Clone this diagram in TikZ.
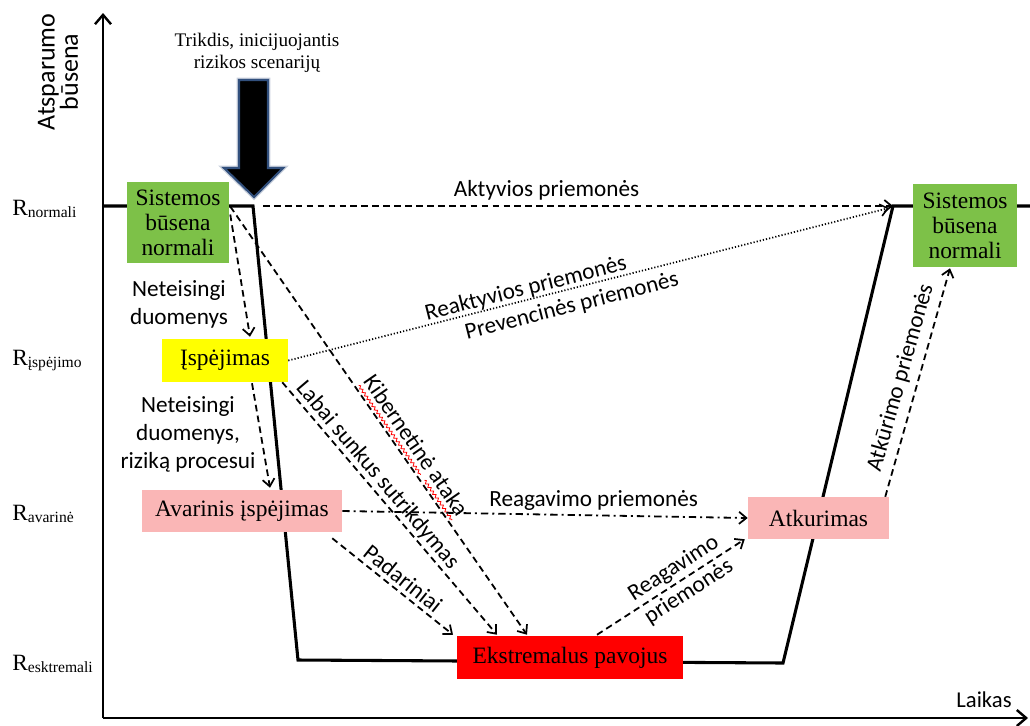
\documentclass[tikz,border=0pt]{standalone}
\usepackage{fontspec}
\setmainfont{Liberation Serif}
\newfontfamily\lab{Carlito}
\usetikzlibrary{arrows.meta,calc,decorations.pathmorphing}

\definecolor{boxgreen}{RGB}{125,193,72}
\definecolor{boxpink}{RGB}{250,182,182}
\definecolor{boxred}{RGB}{255,0,0}
\definecolor{boxyellow}{RGB}{255,255,0}
\definecolor{arrowrim}{RGB}{50,80,125}

\tikzset{
  state/.style={inner sep=0pt, align=center, font=\fontsize{17.6}{18.8}\selectfont},
  curve/.style={line width=2.3pt, line join=miter},
  axis/.style={line width=2.2pt, -{Straight Barb[length=7pt,width=12pt,line width=1.8pt]}},
  flow/.style={line width=1.35pt, dash pattern=on 5pt off 3.2pt,
               -{Straight Barb[length=5.5pt,width=9pt,line width=1.3pt]}},
  flowdot/.style={line width=1.3pt, dash pattern=on 0.9pt off 1.5pt,
               -{Straight Barb[length=5.5pt,width=9pt,line width=1.2pt]}},
  flowdashdot/.style={line width=1.35pt, dash pattern=on 5.5pt off 3pt on 1.5pt off 3pt,
               -{Straight Barb[length=5.5pt,width=9pt,line width=1.3pt]}},
  tag/.style={font=\lab\fontsize{17.4}{21}\selectfont, align=center},
  level/.style={anchor=base west, inner sep=0pt},
  spell/.style={draw=red, line width=0.6pt,
               decorate, decoration={snake, amplitude=1pt, segment length=3.2pt}}
}
\newcommand{\lvl}[1]{{\fontsize{17.5}{17}\selectfont R}\raisebox{-1.6pt}{\fontsize{11.7}{12}\selectfont #1}}

\begin{document}
\begin{tikzpicture}[x=0.75pt, y=-0.75pt]
\useasboundingbox (0,0) rectangle (1030,725);

% axes
\coordinate (o) at (103,718);
\coordinate (ytop) at (103,13);
\coordinate (xend) at (1028,718);
\draw[axis] (o) -- (ytop);
\draw[axis] (o) -- (xend);

\node[font=\lab\fontsize{19.5}{17.5}\selectfont, align=center, rotate=90] (yname) at (58,72) {Atsparumo\\būsena};
\node[font=\lab\fontsize{17}{20}\selectfont] (xname) at (984,700) {Laikas};

% level labels
\node[level] (rn) at (12,215) {\lvl{normali}};
\node[level] (ri) at (12,365) {\lvl{įspėjimo}};
\node[level] (ra) at (12,520) {\lvl{avarinė}};
\node[level] (re) at (12,670) {\lvl{esktremali}};

% resilience curve
\coordinate (c0) at (103,206);
\coordinate (c1) at (253,206);
\coordinate (c2) at (298,660);
\coordinate (c3) at (783,663);
\coordinate (c4) at (893,206);
\coordinate (c5) at (1030,206);
\draw[curve] (c0) -- (c1) -- (c2) -- (c3) -- (c4) -- (c5);

% disturbance arrow
\node[font=\fontsize{14.4}{16.5}\selectfont, align=center] (trig) at (257,53) {Trikdis, inicijuojantis\\rizikos scenarijų};
\draw[draw=arrowrim!45, line width=3.5pt, line join=miter, opacity=0.6]
  (239,80) -- (268,80) -- (268,168) -- (283,168) -- (254,197) -- (224,168) -- (239,168) -- cycle;
\draw[fill=black, draw=arrowrim, line width=1.6pt, line join=miter]
  (239,80) -- (268,80) -- (268,168) -- (283,168) -- (254,197) -- (224,168) -- (239,168) -- cycle;

% states
\node[state, fill=boxgreen, minimum width=76.5pt, minimum height=60.75pt] (g1) at (178,222.5) {Sistemos\\būsena\\normali};
\node[state, fill=boxyellow, minimum width=94.5pt, minimum height=32.25pt] (y1) at (225,360.5) {Įspėjimas};
\node[state, fill=boxpink, minimum width=150pt, minimum height=31.5pt] (p1) at (242,511) {Avarinis įspėjimas};
\node[state, fill=boxred, minimum width=169.5pt, minimum height=32.25pt] (r1) at (570,657.5) {Ekstremalus pavojus};
\node[state, fill=boxpink, minimum width=105.75pt, minimum height=31.5pt] (p2) at (818.5,518) {Atkurimas};
\node[state, fill=boxgreen, minimum width=78pt, minimum height=62.25pt] (g2) at (965,225.5) {Sistemos\\būsena\\normali};

% early warning chain
\draw[flow] ($(g1.east)+(1,-8)$) -- ($(y1.north)+(25,-2)$);
\draw[flow] ($(y1.south)+(27,1)$) -- ($(p1.north)+(28,-2)$);
\node[tag] (wrong1) at (179,304) {Neteisingi\\duomenys};
\node[tag] (wrong2) at (188,434) {Neteisingi\\duomenys,\\riziką procesui};

% paths into the extreme state
\draw[flow] ($(g1.east)+(1,-16)$) -- node[sloped, above=6pt, pos=0.58, tag, inner sep=0pt] (kib) {Kibernetinė ataka} ($(r1.north)+(-43,-1)$);
\coordinate (w0) at ($(kib.south west)!3.2pt!-90:(kib.south east)$);
\coordinate (w1) at ($(kib.south east)!3.2pt!90:(kib.south west)$);
\draw[spell] ($(w0)!0.01!(w1)$) -- ($(w0)!0.66!(w1)$);
\draw[spell] ($(w0)!0.70!(w1)$) -- ($(w0)!0.99!(w1)$);

\draw[flow] ($(y1.south east)+(-6,0)$) -- node[sloped, above, pos=0.40, tag, inner sep=1pt] {Labai sunkus sutrikdymas} ($(r1.north)+(-73,-1)$);
\draw[flow] ($(p1.south east)+(-10,6)$) -- node[sloped, above, pos=0.52, tag, inner sep=3pt] {Padariniai} ($(r1.north)+(-117,-1)$);

% measures
\draw[flow] ($(c1)+(10,0)$) -- node[above, pos=0.45, tag, inner sep=4pt] {Aktyvios priemonės} (c4);
\draw[flowdot] (y1.east) -- node[sloped, above, pos=0.40, tag, inner sep=0pt] {Reaktyvios priemonės}
  node[sloped, below, pos=0.465, tag, inner sep=5pt] {Prevencinės priemonės} ($(c4)+(-4,2)$);

\draw[flowdashdot] (p1.east) -- node[above, pos=0.62, tag, inner sep=3pt] {Reagavimo priemonės} (p2.west);
\draw[flow] ($(r1.north)+(27,-1)$) -- node[sloped, pos=0.57, tag] {Reagavimo\\priemonės} ($(p2.south west)+(-3,0)$);
\draw[flow] ($(p2.north east)+(-4,0)$) -- node[sloped, above, pos=0.5, tag, inner sep=5pt] {Atkūrimo priemonės} ($(g2.south)+(-15,1)$);
\end{tikzpicture}
\end{document}
